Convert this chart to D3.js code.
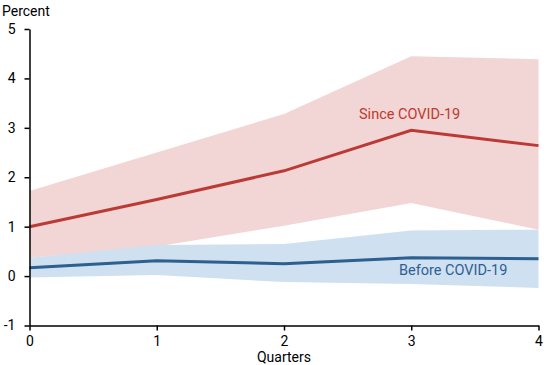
<!DOCTYPE html>
<html><head><meta charset="utf-8">
<script src="https://cdn.jsdelivr.net/npm/d3@7"></script>
<style>body{margin:0;background:#fff}svg{display:block;font-family:Roboto,"Liberation Sans",sans-serif}</style>
</head><body><svg id="c" width="550" height="365"></svg>
<script>
const quarters = [0, 1, 2, 3, 4];
const sinceMid = [1.0, 1.55, 2.13, 2.95, 2.64];
const sinceUpper = [1.72, 2.5, 3.28, 4.45, 4.39];
const sinceLower = [0.37, 0.6, 1.02, 1.48, 0.94];
const beforeMid = [0.17, 0.31, 0.25, 0.37, 0.35];
const beforeUpper = [0.37, 0.63, 0.65, 0.92, 0.94];
const beforeLower = [-0.03, 0.02, -0.12, -0.16, -0.24];
const yTicks = [-1, 0, 1, 2, 3, 4, 5];
const xTicks = [0, 1, 2, 3, 4];

const svg = d3.select("#c");
const x = d3.scaleLinear().domain([0, 4]).range([29.5, 538.5]);
const y = d3.scaleLinear().domain([-1, 5]).range([325.5, 29]);

const area = (lo, hi) => d3.area().x((d, i) => x(quarters[i])).y0((d, i) => y(lo[i])).y1((d, i) => y(hi[i]))(quarters);
const line = (v) => d3.line().x((d, i) => x(quarters[i])).y((d, i) => y(v[i]))(quarters);

svg.append("path").attr("d", area(sinceLower, sinceUpper)).attr("fill", "#f2d5d5");
svg.append("path").attr("d", area(beforeLower, beforeUpper)).attr("fill", "#cfe0f0");
svg.append("path").attr("d", line(sinceMid)).attr("fill", "none").attr("stroke", "#bb3a35").attr("stroke-width", 3);
svg.append("path").attr("d", line(beforeMid)).attr("fill", "none").attr("stroke", "#2d5f8f").attr("stroke-width", 3);

const yAxis = svg.append("g").attr("transform", "translate(29.5,0)")
  .call(d3.axisLeft(y).tickValues(yTicks).tickFormat(d => String(d)).tickSize(5).tickSizeOuter(0).tickPadding(9));
const xAxis = svg.append("g").attr("transform", "translate(0,325.5)")
  .call(d3.axisBottom(x).tickValues(xTicks).tickFormat(d => String(d)).tickSize(5).tickSizeOuter(0).tickPadding(6));
[yAxis, xAxis].forEach(a => {
  a.selectAll("text").attr("font-size", 14).attr("fill", "#000").attr("font-family", "Roboto, sans-serif");
  a.selectAll("path,line").attr("stroke", "#000").attr("stroke-width", 1.5);
});

svg.append("text").attr("x", 2).attr("y", 16).attr("font-size", 14).attr("fill", "#000").text("Percent");
svg.append("text").attr("x", x(2)).attr("y", 362).attr("text-anchor", "middle").attr("font-size", 14).attr("fill", "#000").text("Quarters");
svg.append("text").attr("x", 359).attr("y", 119).attr("font-size", 14.5).attr("fill", "#c0392f").text("Since COVID-19");
svg.append("text").attr("x", 399).attr("y", 275).attr("font-size", 14.5).attr("fill", "#2d5f95").text("Before COVID-19");
</script></body></html>
